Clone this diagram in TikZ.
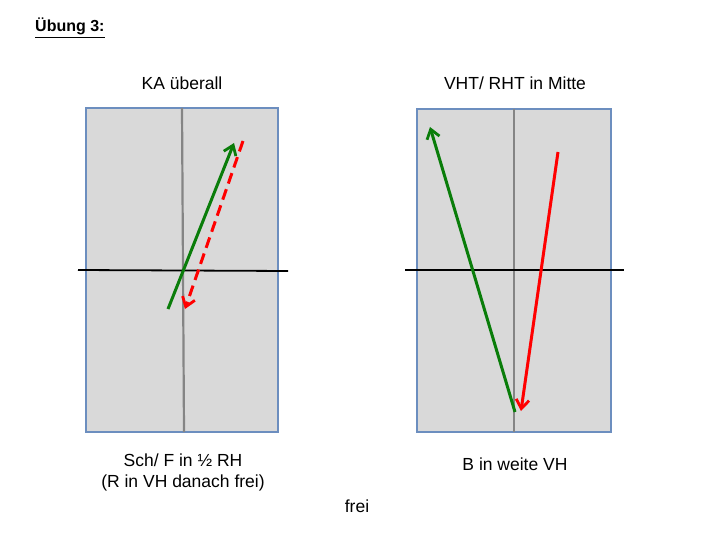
\documentclass[tikz,border=0pt]{standalone}
\usepackage{fontspec}
\setmainfont{Liberation Sans}
\usetikzlibrary{arrows.meta}
\definecolor{boxfill}{HTML}{D9D9D9}
\definecolor{boxline}{HTML}{6C8EBF}
\definecolor{midgray}{HTML}{858585}
\definecolor{mvgreen}{HTML}{0A7D0A}
\definecolor{mvred}{HTML}{FF0000}
\tikzset{
  panel/.style={draw=boxline, line width=1.8pt, fill=boxfill},
  midline/.style={draw=midgray, line width=2.2pt},
  baseline/.style={draw=black, line width=1.8pt},
  lbl/.style={font=\fontsize{17.5}{20.5}\selectfont, align=center, inner sep=0pt},
  mvarrow/.style={line width=3pt, -{Straight Barb[length=9pt,width=13pt,line width=2.8pt]}},
  gmove/.style={mvarrow, draw=mvgreen},
  rmove/.style={mvarrow, draw=mvred},
  rdash/.style={rmove, dash pattern=on 11pt off 6pt}
}
\begin{document}
\begin{tikzpicture}[x=1pt,y=-1pt]
\useasboundingbox (0,0) rectangle (720,540);
% title
\node[anchor=base west, inner sep=0pt, font=\fontsize{16}{19}\selectfont\bfseries] (title) at (35,32) {\underline{Übung 3:}};
% left panel
\path[panel] (86,108) rectangle (278,432);
\coordinate (LT) at (182,108);
\coordinate (LB) at (184,432);
\draw[midline] (LT) -- (LB);
\coordinate (LHl) at (78,270);
\coordinate (LHr) at (288,271);
\draw[baseline] (LHl) -- (LHr);
\coordinate (g1s) at (168,309);
\coordinate (g1e) at (234,143);
\draw[gmove] (g1s) -- (g1e);
\coordinate (r1s) at (243,141);
\coordinate (r1e) at (185,309);
\draw[rdash] (r1s) -- (r1e);
% right panel
\path[panel] (417,109) rectangle (611,432);
\coordinate (RT) at (514,109);
\coordinate (RB) at (514,432);
\draw[midline] (RT) -- (RB);
\coordinate (RHl) at (405,270);
\coordinate (RHr) at (624,270);
\draw[baseline] (RHl) -- (RHr);
\coordinate (g2s) at (515,412);
\coordinate (g2e) at (430,127);
\draw[gmove] (g2s) -- (g2e);
\coordinate (r2s) at (558,152);
\coordinate (r2e) at (521,411);
\draw[rmove] (r2s) -- (r2e);
% labels
\node[lbl, anchor=base] (ka) at (182,90) {KA überall};
\node[lbl, anchor=base] (vht) at (515,90) {VHT/ RHT in Mitte};
\node[lbl, anchor=base] (sch) at (183,487) {Sch/ F in ½ RH\\(R in VH danach frei)};
\node[lbl, anchor=base] (bvh) at (515,470) {B in weite VH};
\node[lbl, anchor=base] (frei) at (357,512) {frei};
\end{tikzpicture}
\end{document}
